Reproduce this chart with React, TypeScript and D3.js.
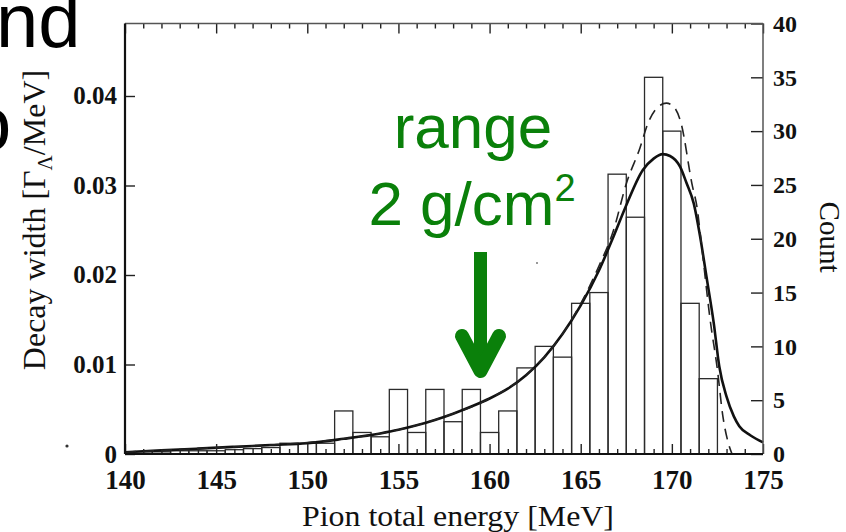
import { useEffect, useRef } from 'react'
import * as d3 from 'd3'

// Histogram (right axis, counts), 1 MeV bins centred on integers
const binCenters = [141, 142, 143, 144, 145, 146, 147, 148, 149, 150, 151, 152, 153, 154, 155, 156,
  157, 158, 159, 160, 161, 162, 163, 164, 165, 166, 167, 168, 169, 170, 171, 172]
const binCounts = [0.2, 0.2, 0.3, 0.3, 0.3, 0.4, 0.5, 0.6, 1, 1, 1, 4, 2, 1.6, 6, 2,
  6, 3, 6, 2, 4, 8, 10, 9, 14, 15, 26, 22, 35, 30, 14, 7]

// Solid decay-width curve (left axis)
const solidEnergy = [140, 142, 144, 146, 148, 150, 152, 154, 155, 156, 157, 158, 159, 160, 161, 162,
  163, 164, 165, 166, 166.8, 167.5, 168.4, 169, 169.5, 169.9, 170.45, 170.8, 171.2, 171.55, 171.9,
  172.3, 172.6, 173, 173.4, 173.7, 174.3, 175]
const solidWidth = [0.0002, 0.0004, 0.0006, 0.0008, 0.001, 0.0012, 0.0017, 0.0023, 0.0027, 0.0032,
  0.0038, 0.0045, 0.0053, 0.0062, 0.0073, 0.0088, 0.0108, 0.0134, 0.0166, 0.0205, 0.0243, 0.0278,
  0.0317, 0.033, 0.0335, 0.0333, 0.0321, 0.0303, 0.028, 0.0243, 0.0198, 0.0146, 0.0098, 0.0064,
  0.0042, 0.0031, 0.0021, 0.0013]

// Dashed curve (left axis)
const dashedEnergy = [140, 144, 148, 152, 155, 158, 160, 162, 163, 164, 165, 166, 166.8, 167.5, 168.25,
  168.7, 169.2, 169.7, 170.1, 170.5, 171.1, 171.4, 171.6, 172.1, 172.5, 172.8, 173.1, 173.3]
const dashedWidth = [0.0002, 0.0006, 0.001, 0.0017, 0.0027, 0.0045, 0.0062, 0.0088, 0.0108, 0.0134,
  0.0168, 0.021, 0.025, 0.0302, 0.0342, 0.037, 0.0387, 0.0392, 0.0388, 0.037, 0.0302, 0.0273, 0.0239,
  0.015, 0.0094, 0.0042, 0.0012, 0]

const energyTicks = [140, 145, 150, 155, 160, 165, 170, 175]
const energyMinorTicks = [141, 142, 143, 144, 146, 147, 148, 149, 151, 152, 153, 154, 156, 157, 158,
  159, 161, 162, 163, 164, 166, 167, 168, 169, 171, 172, 173, 174]
const widthTicks = [0, 0.01, 0.02, 0.03, 0.04]
const countTicks = [0, 5, 10, 15, 20, 25, 30, 35, 40]

const serif = '"Liberation Serif", "Times New Roman", serif'
const sans = '"Liberation Sans", Arial, sans-serif'
const green = '#0a800a'

export default function App() {
  const svgRef = useRef<SVGSVGElement>(null)

  useEffect(() => {
    if (!svgRef.current) return
    const root = d3.select(svgRef.current)
    root.selectAll('*').remove()

    const margin = { top: 23.5, right: 83, bottom: 78, left: 125 }
    const width = 846 - margin.left - margin.right
    const height = 532 - margin.top - margin.bottom

    const x = d3.scaleLinear().domain([140, 175]).range([0, width])
    const yCount = d3.scaleLinear().domain([0, 40]).range([height, 0])
    const yWidth = d3.scaleLinear().domain([0, 0.0481]).range([height, 0])

    const g = root.append('g').attr('transform', `translate(${margin.left},${margin.top})`)

    // histogram bars
    g.selectAll('rect.bar')
      .data(binCenters)
      .enter()
      .append('rect')
      .attr('class', 'bar')
      .attr('x', d => x(d - 0.5))
      .attr('width', d => x(d + 0.5) - x(d - 0.5))
      .attr('y', (d, i) => yCount(binCounts[i]))
      .attr('height', (d, i) => yCount(0) - yCount(binCounts[i]))
      .attr('fill', 'none')
      .attr('stroke', '#2b2b2b')
      .attr('stroke-width', 1.3)

    // curves
    const solid = d3.line<number>()
      .x((d, i) => x(solidEnergy[i]))
      .y(d => yWidth(d))
      .curve(d3.curveMonotoneX)
    g.append('path')
      .attr('d', solid(solidWidth))
      .attr('fill', 'none')
      .attr('stroke', '#111')
      .attr('stroke-width', 2.6)

    const dashed = d3.line<number>()
      .x((d, i) => x(dashedEnergy[i]))
      .y(d => yWidth(d))
      .curve(d3.curveMonotoneX)
    g.append('path')
      .attr('d', dashed(dashedWidth))
      .attr('fill', 'none')
      .attr('stroke', '#222')
      .attr('stroke-width', 1.6)
      .attr('stroke-dasharray', '11,7')

    // axes
    const styleAxis = (sel, size) => {
      sel.select('.domain').remove()
      sel.selectAll('.tick line').attr('stroke', '#222').attr('stroke-width', 1.4)
      sel.selectAll('.tick text')
        .attr('fill', '#111')
        .attr('font-family', serif)
        .attr('font-weight', 700)
        .attr('font-size', size)
    }

    const bottom = g.append('g').attr('transform', `translate(0,${height})`)
      .call(d3.axisBottom(x).tickValues(energyTicks).tickSize(-10).tickPadding(16).tickFormat(d3.format('d')))
    styleAxis(bottom, 27)
    const bottomMinor = g.append('g').attr('transform', `translate(0,${height})`)
      .call(d3.axisBottom(x).tickValues(energyMinorTicks).tickSize(-5).tickFormat(() => ''))
    styleAxis(bottomMinor, 0)

    const top = g.append('g')
      .call(d3.axisTop(x).tickValues(energyTicks).tickSize(-10).tickFormat(() => ''))
    styleAxis(top, 0)
    const topMinor = g.append('g')
      .call(d3.axisTop(x).tickValues(energyMinorTicks).tickSize(-5).tickFormat(() => ''))
    styleAxis(topMinor, 0)

    const left = g.append('g')
      .call(d3.axisLeft(yWidth).tickValues(widthTicks).tickSize(-10).tickPadding(8)
        .tickFormat(d => (d === 0 ? '0' : d3.format('.2f')(d))))
    styleAxis(left, 25)

    const right = g.append('g').attr('transform', `translate(${width},0)`)
      .call(d3.axisRight(yCount).tickValues(countTicks).tickSize(-12).tickPadding(10).tickFormat(d3.format('d')))
    styleAxis(right, 24)

    // frame
    g.append('line').attr('x1', 0).attr('x2', width).attr('y1', 0).attr('y2', 0)
      .attr('stroke', '#555').attr('stroke-width', 1.3)
    g.append('line').attr('x1', width).attr('x2', width).attr('y1', 0).attr('y2', height)
      .attr('stroke', '#555').attr('stroke-width', 1.5)
    g.append('line').attr('x1', 0).attr('x2', width).attr('y1', height).attr('y2', height)
      .attr('stroke', '#111').attr('stroke-width', 2.2)
    g.append('line').attr('x1', 0).attr('x2', 0).attr('y1', 0).attr('y2', height)
      .attr('stroke', '#111').attr('stroke-width', 2.2)

    // axis titles
    root.append('text')
      .attr('x', 458).attr('y', 526)
      .attr('text-anchor', 'middle')
      .attr('font-family', serif)
      .attr('font-size', 30)
      .attr('fill', '#111')
      .attr('textLength', 312)
      .attr('lengthAdjust', 'spacingAndGlyphs')
      .text('Pion total energy [MeV]')

    const yTitle = root.append('text')
      .attr('transform', 'translate(45,220) rotate(-90)')
      .attr('text-anchor', 'middle')
      .attr('font-family', serif)
      .attr('font-size', 32)
      .attr('fill', '#111')
    yTitle.append('tspan').text('Decay width  [Γ')
    yTitle.append('tspan').attr('font-size', 21).attr('dy', 7).text('Λ')
    yTitle.append('tspan').attr('dy', -7).text('/MeV]')

    root.append('text')
      .attr('transform', 'translate(820,237) rotate(90)')
      .attr('text-anchor', 'middle')
      .attr('font-family', serif)
      .attr('font-size', 29)
      .attr('fill', '#111')
      .text('Count')

    // green annotation
    root.append('text')
      .attr('x', 473).attr('y', 148)
      .attr('text-anchor', 'middle')
      .attr('font-family', sans)
      .attr('font-size', 62)
      .attr('fill', green)
      .text('range')
    const unit = root.append('text')
      .attr('x', 472).attr('y', 225)
      .attr('text-anchor', 'middle')
      .attr('font-family', sans)
      .attr('font-size', 62)
      .attr('fill', green)
    unit.append('tspan').text('2 g/cm')
    unit.append('tspan').attr('font-size', 38).attr('dy', -24).text('2')

    root.append('line')
      .attr('x1', 480.5).attr('x2', 480.5).attr('y1', 252).attr('y2', 368)
      .attr('stroke', green).attr('stroke-width', 13)
    root.append('polyline')
      .attr('points', '462,336 480.5,371 499,336')
      .attr('fill', 'none')
      .attr('stroke', green)
      .attr('stroke-width', 14)
      .attr('stroke-linecap', 'round')
      .attr('stroke-linejoin', 'round')

    // slide text cut off at the left edge
    root.append('text')
      .attr('x', -4).attr('y', 47)
      .attr('font-family', sans)
      .attr('font-size', 76)
      .attr('fill', '#000')
      .text('nd')
    root.append('text')
      .attr('x', -31).attr('y', 150)
      .attr('font-family', sans)
      .attr('font-size', 76)
      .attr('fill', '#000')
      .text('o')

    // scan specks
    root.append('circle').attr('cx', 67).attr('cy', 446).attr('r', 1.6).attr('fill', '#333')
    root.append('circle').attr('cx', 537).attr('cy', 263).attr('r', 1).attr('fill', '#777')
  }, [])

  return (
    <svg
      ref={svgRef}
      width={846}
      height={532}
      style={{ position: 'absolute', left: 0, top: 0, background: '#fff' }}
    />
  )
}
